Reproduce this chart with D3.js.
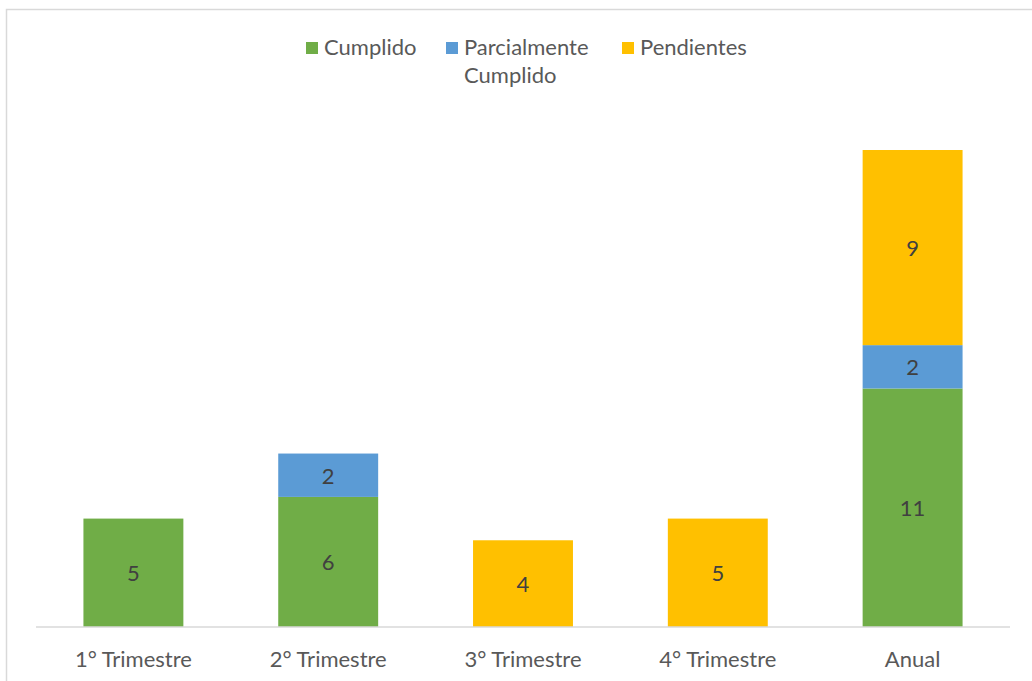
<!DOCTYPE html>
<html>
<head>
<meta charset="utf-8">
<script src="https://cdn.jsdelivr.net/npm/d3@7"></script>
<style>
  html, body { margin: 0; padding: 0; background: #fff; }
  svg text { font-family: Lato, "Open Sans", sans-serif; }
</style>
</head>
<body>
<svg id="chart" width="1032" height="681"></svg>
<script>
// Periods on the category axis
const categories = ["1° Trimestre", "2° Trimestre", "3° Trimestre", "4° Trimestre", "Anual"];
// Stacked series values per period (0 = no segment)
const cumplido = [5, 6, 0, 0, 11];
const parcial = [0, 2, 0, 0, 2];
const pendientes = [0, 0, 4, 5, 9];
const seriesNames = ["Cumplido", "Parcialmente Cumplido", "Pendientes"];
const seriesColors = ["#70AD47", "#5B9BD5", "#FFC000"];

const svg = d3.select("#chart");
const W = 1032, H = 681;
const FS = 22;

// Chart area frame
svg.append("rect")
  .attr("x", 6.5).attr("y", 9.5)
  .attr("width", W + 10).attr("height", H)
  .attr("fill", "none").attr("stroke", "#d9d9d9").attr("stroke-width", 1.5);

const plot = { left: 36, right: 1010, top: 150, bottom: 627 };

const x = d3.scaleBand()
  .domain(categories)
  .range([plot.left, plot.right])
  .paddingInner(0.487)
  .paddingOuter(0.487 / 2);

const y = d3.scaleLinear()
  .domain([0, 22])
  .range([plot.bottom, plot.top]);

const table = categories.map((c, i) => ({
  cat: c,
  "Cumplido": cumplido[i],
  "Parcialmente Cumplido": parcial[i],
  "Pendientes": pendientes[i]
}));

const stack = d3.stack().keys(seriesNames);
const layers = stack(table);

const g = svg.append("g");
layers.forEach((layer, li) => {
  layer.forEach(d => {
    const v = d[1] - d[0];
    if (v <= 0) return;
    g.append("rect")
      .attr("x", x(d.data.cat))
      .attr("width", x.bandwidth())
      .attr("y", y(d[1]))
      .attr("height", y(d[0]) - y(d[1]))
      .attr("fill", seriesColors[li]);
    g.append("text")
      .attr("x", x(d.data.cat) + x.bandwidth() / 2)
      .attr("y", (y(d[0]) + y(d[1])) / 2)
      .attr("dy", "0.38em")
      .attr("text-anchor", "middle")
      .attr("font-size", FS)
      .attr("fill", "#404040")
      .text(v);
  });
});

// Category axis
const xAxis = svg.append("g")
  .attr("transform", `translate(0,${plot.bottom})`)
  .call(d3.axisBottom(x).tickSize(0).tickPadding(24));
xAxis.select(".domain").attr("stroke", "#d9d9d9").attr("stroke-width", 1.5)
  .attr("d", `M${plot.left},0H${plot.right}`);
xAxis.selectAll("text")
  .attr("font-size", FS)
  .attr("fill", "#595959")
  .attr("font-family", "Lato, sans-serif");

// Legend
const legend = svg.append("g").attr("font-size", FS).attr("fill", "#595959");
const legendItems = [
  { x: 306, lines: ["Cumplido"] },
  { x: 446, lines: ["Parcialmente", "Cumplido"] },
  { x: 622, lines: ["Pendientes"] }
];
legendItems.forEach((it, i) => {
  legend.append("rect")
    .attr("x", it.x).attr("y", 42)
    .attr("width", 12).attr("height", 12)
    .attr("fill", seriesColors[i]);
  it.lines.forEach((ln, j) => {
    legend.append("text")
      .attr("x", it.x + 18)
      .attr("y", 55 + j * 28)
      .attr("fill", "#595959")
      .text(ln);
  });
});
</script>
</body>
</html>
